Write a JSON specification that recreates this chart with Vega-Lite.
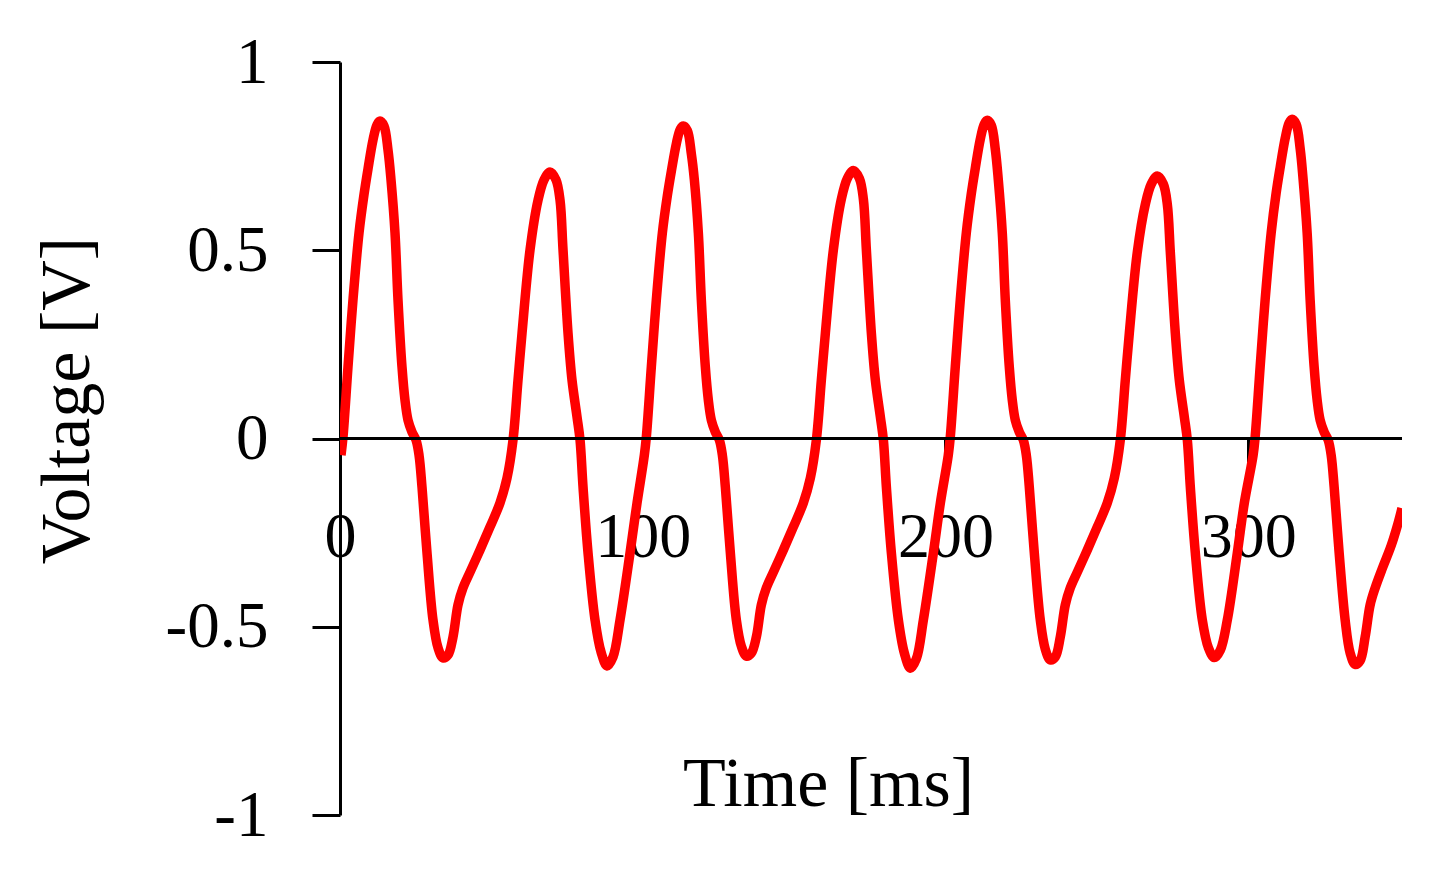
{
  "$schema": "https://vega.github.io/schema/vega-lite/v6.json",
  "autosize": {"type": "none"},
  "padding": {"left": 340, "top": 62, "right": 41, "bottom": 61},
  "width": 1062,
  "height": 753,
  "background": "white",
  "config": {"view": {"stroke": null}},
  "layer": [
    {
      "data": {"values": [
        {"t":0.33,"v":-0.044},{"t":0.99,"v":0.004},{"t":2.64,"v":0.19},{"t":4.29,"v":0.368},{"t":6.28,"v":0.546},{"t":7.93,"v":0.648},{"t":9.25,"v":0.716},{"t":10.9,"v":0.793},{"t":12.22,"v":0.833},{"t":13.21,"v":0.843},{"t":14.54,"v":0.83},{"t":15.86,"v":0.766},{"t":16.85,"v":0.687},{"t":18.17,"v":0.546},{"t":19.16,"v":0.368},{"t":20.48,"v":0.19},{"t":21.47,"v":0.102},{"t":22.46,"v":0.049},{"t":23.79,"v":0.017},{"t":25.11,"v":-0.004},{"t":26.1,"v":-0.044},{"t":27.09,"v":-0.129},{"t":28.74,"v":-0.304},{"t":30.72,"v":-0.482},{"t":32.38,"v":-0.556},{"t":34.03,"v":-0.583},{"t":35.68,"v":-0.575},{"t":37.33,"v":-0.527},{"t":38.98,"v":-0.442},{"t":40.63,"v":-0.397},{"t":42.95,"v":-0.355},{"t":46.25,"v":-0.296},{"t":49.55,"v":-0.235},{"t":52.86,"v":-0.171},{"t":55.17,"v":-0.105},{"t":57.15,"v":-0.004},{"t":58.8,"v":0.155},{"t":60.13,"v":0.28},{"t":62.77,"v":0.501},{"t":65.41,"v":0.633},{"t":67.39,"v":0.687},{"t":69.38,"v":0.708},{"t":71.36,"v":0.687},{"t":72.68,"v":0.633},{"t":73.67,"v":0.501},{"t":75.32,"v":0.28},{"t":76.64,"v":0.155},{"t":78.3,"v":0.057},{"t":79.29,"v":-0.004},{"t":80.28,"v":-0.129},{"t":81.93,"v":-0.304},{"t":84.24,"v":-0.482},{"t":86.22,"v":-0.567},{"t":88.21,"v":-0.604},{"t":90.19,"v":-0.58},{"t":92.5,"v":-0.482},{"t":95.8,"v":-0.304},{"t":98.12,"v":-0.171},
        {"t":100.53,"v":-0.044},{"t":101.19,"v":0.004},{"t":102.84,"v":0.19},{"t":104.49,"v":0.368},{"t":106.48,"v":0.546},{"t":108.13,"v":0.645},{"t":109.45,"v":0.71},{"t":111.1,"v":0.783},{"t":112.42,"v":0.822},{"t":113.41,"v":0.83},{"t":114.74,"v":0.818},{"t":116.06,"v":0.756},{"t":117.05,"v":0.687},{"t":118.37,"v":0.546},{"t":119.36,"v":0.368},{"t":120.68,"v":0.19},{"t":121.67,"v":0.102},{"t":122.66,"v":0.049},{"t":123.99,"v":0.017},{"t":125.31,"v":-0.004},{"t":126.3,"v":-0.044},{"t":127.29,"v":-0.129},{"t":128.94,"v":-0.304},{"t":130.92,"v":-0.482},{"t":132.58,"v":-0.552},{"t":134.23,"v":-0.578},{"t":135.88,"v":-0.57},{"t":137.53,"v":-0.527},{"t":139.18,"v":-0.442},{"t":140.83,"v":-0.397},{"t":143.15,"v":-0.355},{"t":146.45,"v":-0.296},{"t":149.75,"v":-0.235},{"t":153.06,"v":-0.171},{"t":155.37,"v":-0.105},{"t":157.35,"v":-0.004},{"t":159.0,"v":0.155},{"t":160.33,"v":0.28},{"t":162.97,"v":0.501},{"t":165.61,"v":0.636},{"t":167.59,"v":0.691},{"t":169.58,"v":0.712},{"t":171.56,"v":0.691},{"t":172.88,"v":0.636},{"t":173.87,"v":0.501},{"t":175.52,"v":0.28},{"t":176.84,"v":0.155},{"t":178.5,"v":0.057},{"t":179.49,"v":-0.004},{"t":180.48,"v":-0.129},{"t":182.13,"v":-0.304},{"t":184.44,"v":-0.482},{"t":186.42,"v":-0.57},{"t":188.41,"v":-0.61},{"t":190.39,"v":-0.585},{"t":192.7,"v":-0.482},{"t":196.0,"v":-0.304},{"t":198.32,"v":-0.171},
        {"t":200.93,"v":-0.044},{"t":201.59,"v":0.004},{"t":203.24,"v":0.19},{"t":204.89,"v":0.368},{"t":206.88,"v":0.546},{"t":208.53,"v":0.65},{"t":209.85,"v":0.718},{"t":211.5,"v":0.795},{"t":212.82,"v":0.835},{"t":213.81,"v":0.845},{"t":215.14,"v":0.832},{"t":216.46,"v":0.768},{"t":217.45,"v":0.687},{"t":218.77,"v":0.546},{"t":219.76,"v":0.368},{"t":221.08,"v":0.19},{"t":222.07,"v":0.102},{"t":223.06,"v":0.049},{"t":224.39,"v":0.017},{"t":225.71,"v":-0.004},{"t":226.7,"v":-0.044},{"t":227.69,"v":-0.129},{"t":229.34,"v":-0.304},{"t":231.32,"v":-0.482},{"t":232.98,"v":-0.56},{"t":234.63,"v":-0.588},{"t":236.28,"v":-0.58},{"t":237.93,"v":-0.527},{"t":239.58,"v":-0.442},{"t":241.23,"v":-0.397},{"t":243.55,"v":-0.355},{"t":246.85,"v":-0.296},{"t":250.15,"v":-0.235},{"t":253.46,"v":-0.171},{"t":255.77,"v":-0.105},{"t":257.75,"v":-0.004},{"t":259.4,"v":0.155},{"t":260.73,"v":0.28},{"t":263.37,"v":0.495},{"t":266.01,"v":0.622},{"t":267.99,"v":0.676},{"t":269.98,"v":0.697},{"t":271.96,"v":0.676},{"t":273.28,"v":0.622},{"t":274.27,"v":0.495},{"t":275.92,"v":0.28},{"t":277.24,"v":0.155},{"t":278.9,"v":0.057},{"t":279.89,"v":-0.004},{"t":280.88,"v":-0.129},{"t":282.53,"v":-0.304},{"t":284.84,"v":-0.482},{"t":286.82,"v":-0.555},{"t":288.81,"v":-0.582},{"t":290.79,"v":-0.562},{"t":293.1,"v":-0.482},{"t":296.4,"v":-0.304},{"t":298.72,"v":-0.171},
        {"t":301.63,"v":-0.044},{"t":302.29,"v":0.004},{"t":303.94,"v":0.19},{"t":305.59,"v":0.368},{"t":307.58,"v":0.546},{"t":309.23,"v":0.652},{"t":310.55,"v":0.72},{"t":312.2,"v":0.797},{"t":313.52,"v":0.838},{"t":314.51,"v":0.848},{"t":315.84,"v":0.835},{"t":317.16,"v":0.77},{"t":318.15,"v":0.687},{"t":319.47,"v":0.546},{"t":320.46,"v":0.368},{"t":321.78,"v":0.19},{"t":322.77,"v":0.102},{"t":323.76,"v":0.049},{"t":325.09,"v":0.017},{"t":326.41,"v":-0.004},{"t":327.4,"v":-0.044},{"t":328.39,"v":-0.129},{"t":330.04,"v":-0.304},{"t":332.02,"v":-0.482},{"t":333.68,"v":-0.57},{"t":335.33,"v":-0.6},{"t":336.98,"v":-0.59},{"t":338.63,"v":-0.527},{"t":340.28,"v":-0.442},{"t":341.93,"v":-0.397},{"t":344.3,"v":-0.345},{"t":347.2,"v":-0.285},{"t":349.5,"v":-0.225},{"t":350.8,"v":-0.185}
      ]},
      "mark": {"type": "line", "color": "#ff0000", "strokeWidth": 9.5, "interpolate": "catmull-rom", "clip": true},
      "encoding": {
        "x": {
          "field": "t", "type": "quantitative",
          "scale": {"domain": [0, 350.8], "nice": false, "zero": false},
          "axis": {
            "orient": "bottom", "offset": -377,
            "values": [0, 100, 200, 300], "format": "d",
            "domain": false, "grid": false,
            "ticks": true, "tickSize": 24, "tickWidth": 3, "tickColor": "black",
            "labelFont": "Liberation Serif", "labelFontSize": 64, "labelColor": "black",
            "labelPadding": 43, "labelFlush": false, "labelOverlap": false, "labelBound": false,
            "title": "Time [ms]", "titleFont": "Liberation Serif", "titleFontSize": 70,
            "titleFontWeight": "normal", "titleColor": "black",
            "titleX": 488, "titleY": 367, "titleAlign": "center", "titleBaseline": "alphabetic", "titleAnchor": null
          }
        },
        "y": {
          "field": "v", "type": "quantitative",
          "scale": {"domain": [-1, 1], "nice": false, "zero": false},
          "axis": {
            "orient": "left",
            "values": [-1, -0.5, 0, 0.5, 1],
            "labelExpr": "'' + datum.value",
            "domain": true, "domainColor": "black", "domainWidth": 3, "grid": false,
            "ticks": true, "tickSize": 28, "tickWidth": 3, "tickColor": "black",
            "labelFont": "Liberation Serif", "labelFontSize": 65, "labelColor": "black",
            "labelPadding": 44, "labelFlush": false, "labelOverlap": false, "labelBound": false,
            "labelAlign": "right", "labelBaseline": "middle",
            "title": "Voltage [V]", "titleFont": "Liberation Serif", "titleFontSize": 70,
            "titleFontWeight": "normal", "titleColor": "black",
            "titleAngle": -90, "titleX": -252, "titleY": 338, "titleAlign": "center", "titleBaseline": "alphabetic"
          }
        }
      }
    },
    {
      "data": {"values": [{}]},
      "mark": {"type": "rule", "color": "black", "strokeWidth": 3},
      "encoding": {"y": {"datum": 0, "type": "quantitative"}}
    }
  ]
}
